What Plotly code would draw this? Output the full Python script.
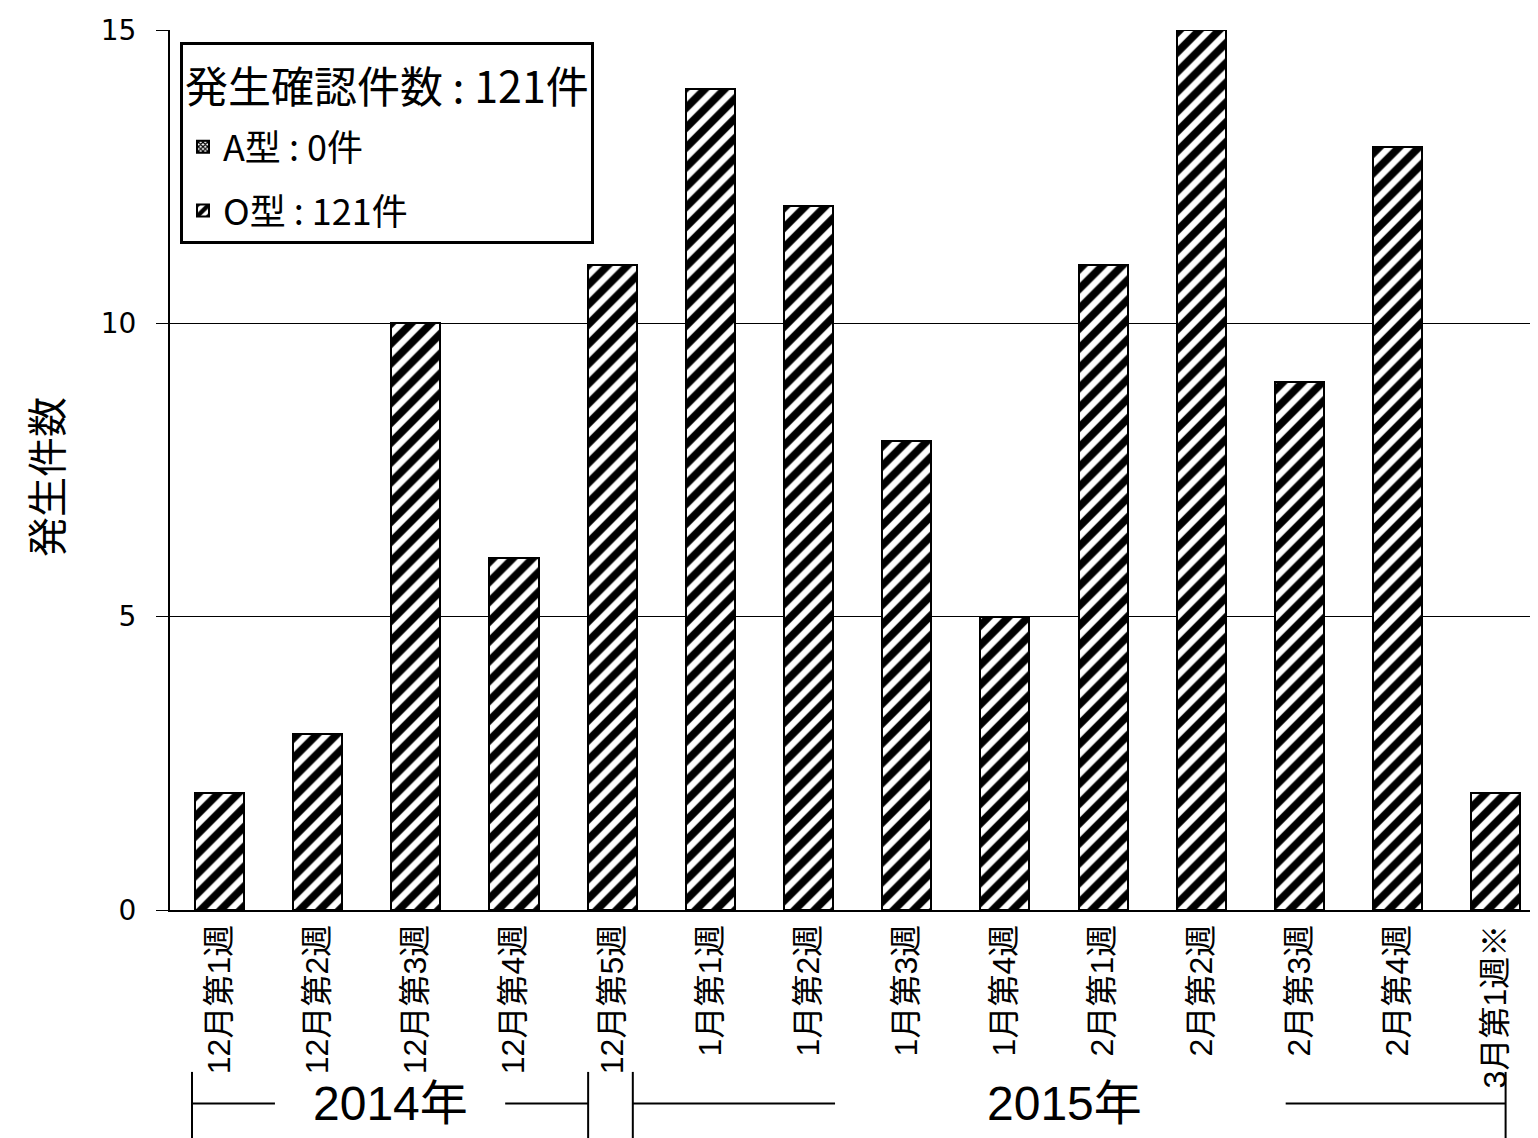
import plotly.graph_objects as go

categories = ["12月第1週", "12月第2週", "12月第3週", "12月第4週", "12月第5週",
              "1月第1週", "1月第2週", "1月第3週", "1月第4週",
              "2月第1週", "2月第2週", "2月第3週", "2月第4週", "3月第1週※"]
o_values = [2, 3, 10, 6, 11, 14, 12, 8, 5, 11, 15, 9, 13, 2]
a_values = [0] * len(categories)
y_ticks = [0, 5, 10, 15]
year_labels = ["2014年", "2015年"]

JP = "Liberation Sans, Noto Sans CJK JP"
idx = list(range(len(categories)))

fig = go.Figure()
fig.add_trace(go.Bar(
    x=idx, y=a_values, name=f"A型 : {sum(a_values)}件", width=0.5, legendgroup="A",
    marker=dict(color="white", line=dict(color="black", width=2),
                pattern=dict(shape="x", fgcolor="black", bgcolor="white", size=4,
                             solidity=0.6, fgopacity=1)),
))
fig.add_trace(go.Bar(
    x=idx, y=o_values, name=f"O型 : {sum(o_values)}件", width=0.5, legendgroup="O",
    marker=dict(color="white", line=dict(color="black", width=2),
                pattern=dict(shape="/", fgcolor="black", bgcolor="white", size=14,
                             solidity=0.55, fgopacity=1)),
))

# year brackets below the axis
shapes = []
annotations = []
y_mid, y_lo, y_hi = -0.22, -0.26, -0.184
bracket_specs = [
    # (left vertical, left line end, right line start, right vertical, label pos)
    (-0.28, 0.565, 2.91, 3.755, 1.74),
    (4.21, 6.27, 10.86, 13.1, 8.61),
]
for lab, (lv, le, rs, rv, lp) in zip(year_labels, bracket_specs):
    for xv in (lv, rv):
        shapes.append(dict(type="line", xref="x", yref="paper", x0=xv, x1=xv, y0=y_lo, y1=y_hi,
                           line=dict(color="black", width=2)))
    shapes.append(dict(type="line", xref="x", yref="paper", x0=lv, x1=le, y0=y_mid, y1=y_mid,
                       line=dict(color="black", width=2)))
    shapes.append(dict(type="line", xref="x", yref="paper", x0=rs, x1=rv, y0=y_mid, y1=y_mid,
                       line=dict(color="black", width=2)))
    annotations.append(dict(text=lab, xref="x", yref="paper", x=lp, y=y_mid, showarrow=False,
                            font=dict(family=JP, size=48, color="black"),
                            xanchor="center", yanchor="middle"))

annotations.append(dict(text="発生件数", xref="paper", yref="paper", x=-0.0914, y=0.492,
                        textangle=-90, showarrow=False,
                        font=dict(family="Noto Sans CJK JP", size=40, color="black"),
                        xanchor="center", yanchor="middle"))

title_txt = f"発生確認件数 : {sum(o_values) + sum(a_values)}件"
legend_title = ("<br><br><br>" + f"<span style='font-size:43px'>{title_txt}</span>" + "<br>")

fig.update_layout(
    width=1530, height=1130,
    margin=dict(l=162, r=0, t=22, b=228),
    paper_bgcolor="white", plot_bgcolor="white",
    barmode="stack",
    showlegend=True,
    legend=dict(
        x=0.0073, y=0.986, xanchor="left", yanchor="top",
        bordercolor="black", borderwidth=3, bgcolor="white",
        traceorder="grouped", tracegroupgap=14,
        title=dict(text=legend_title,
                   font=dict(family="Noto Sans CJK JP", size=11, color="black")),
        font=dict(family="Noto Sans CJK JP", size=36, color="black"),
        itemwidth=30,
    ),
    shapes=shapes,
    annotations=annotations,
    xaxis=dict(
        range=[-0.504, 13.43], tickmode="array", tickvals=idx, ticktext=categories,
        tickangle=-90, tickfont=dict(family=JP, size=32, color="black"),
        showline=True, linecolor="black", linewidth=2, ticks="", showgrid=False,
        automargin=False, fixedrange=True,
    ),
    yaxis=dict(
        range=[0, 15], tickmode="array", tickvals=y_ticks,
        tickfont=dict(family="DejaVu Sans", size=28, color="black"),
        ticklabelstandoff=14,
        showline=True, linecolor="black", linewidth=2,
        ticks="outside", ticklen=12, tickcolor="black", tickwidth=1,
        showgrid=True, gridcolor="black", gridwidth=1, zeroline=False,
        automargin=False, fixedrange=True,
    ),
)

fig.write_html("out.html")
